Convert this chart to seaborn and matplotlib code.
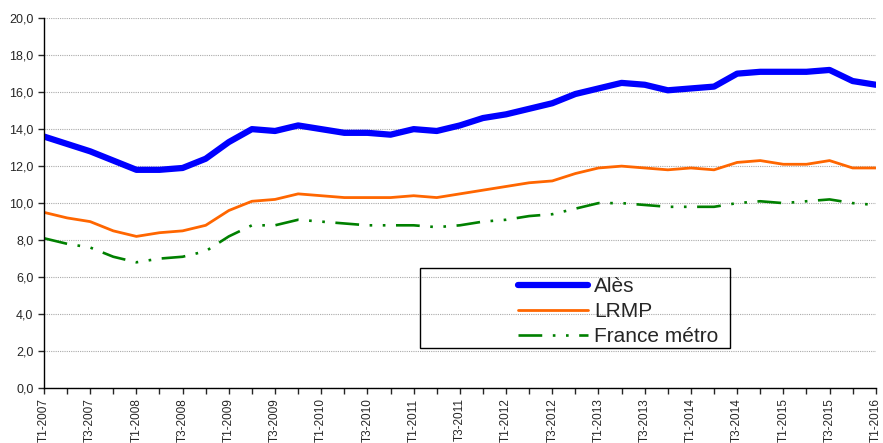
import numpy as np
import pandas as pd
import seaborn as sns
import matplotlib.pyplot as plt
from matplotlib.patches import Rectangle
from matplotlib.ticker import FuncFormatter, MultipleLocator

# quarterly unemployment rates, T1-2007 .. T1-2016
quarters = [f"T{q}-{y}" for y in range(2007, 2017) for q in (1, 2, 3, 4)][:37]

ales = [13.6, 13.2, 12.8, 12.3, 11.8, 11.8, 11.9, 12.4, 13.3, 14.0, 13.9, 14.2,
        14.0, 13.8, 13.8, 13.7, 14.0, 13.9, 14.2, 14.6, 14.8, 15.1, 15.4, 15.9,
        16.2, 16.5, 16.4, 16.1, 16.2, 16.3, 17.0, 17.1, 17.1, 17.1, 17.2, 16.6, 16.4]
lrmp = [9.5, 9.2, 9.0, 8.5, 8.2, 8.4, 8.5, 8.8, 9.6, 10.1, 10.2, 10.5,
        10.4, 10.3, 10.3, 10.3, 10.4, 10.3, 10.5, 10.7, 10.9, 11.1, 11.2, 11.6,
        11.9, 12.0, 11.9, 11.8, 11.9, 11.8, 12.2, 12.3, 12.1, 12.1, 12.3, 11.9, 11.9]
france = [8.1, 7.8, 7.6, 7.1, 6.8, 7.0, 7.1, 7.4, 8.2, 8.8, 8.8, 9.1,
          9.0, 8.9, 8.8, 8.8, 8.8, 8.7, 8.8, 9.0, 9.1, 9.3, 9.4, 9.7,
          10.0, 10.0, 9.9, 9.8, 9.8, 9.8, 10.0, 10.1, 10.0, 10.1, 10.2, 10.0, 9.9]

df = pd.DataFrame({"idx": np.arange(len(quarters)), "quarter": quarters,
                   "Alès": ales, "LRMP": lrmp, "France métro": france})

sns.set_style("white")
plt.rcParams['font.family'] = ['Liberation Sans', 'DejaVu Sans']

fig = plt.figure(figsize=(8.83, 4.43), dpi=100)
ax = fig.add_axes([0.0498, 0.124, 0.942, 0.835])

sns.lineplot(data=df, x="idx", y="Alès", ax=ax, color="#0000FF", lw=4.5, label="Alès")
sns.lineplot(data=df, x="idx", y="LRMP", ax=ax, color="#FF6600", lw=2, label="LRMP")
sns.lineplot(data=df, x="idx", y="France métro", ax=ax, color="#008000", lw=1.9,
             dashes=False, label="France métro")
ax.lines[2].set_dashes((9, 4, 1, 4, 1, 4))

ax.set_xlim(0, 36)
ax.set_ylim(0, 20)
ax.yaxis.set_major_locator(MultipleLocator(2))
ax.yaxis.set_major_formatter(FuncFormatter(lambda v, p: f"{v:.1f}".replace(".", ",")))
ax.set_xticks(df["idx"][::2])
ax.set_xticklabels(df["quarter"][::2], rotation=90, fontsize=8.5)
ax.set_xticks(df["idx"][1::2], minor=True)
ax.tick_params(axis="y", labelsize=9, length=4, width=1, direction="out", left=True)
ax.tick_params(axis="x", which="both", length=4, width=1, direction="out", bottom=True)
ax.set_xlabel("")
ax.set_ylabel("")

ax.grid(axis="y", color="#aaaaaa", linestyle=(0, (1, 1)), lw=0.8)
ax.set_axisbelow(True)
for s in ("top", "right"):
    ax.spines[s].set_visible(False)
for s in ("left", "bottom"):
    ax.spines[s].set_color("black")
    ax.spines[s].set_linewidth(1)

# Excel-like legend box
ax.add_patch(Rectangle((16.27, 2.16), 13.41, 4.33, fill=False, ec="black", lw=1,
                       transform=ax.transData, zorder=5))
ax.get_legend().remove()
leg = ax.legend(loc="upper left", bbox_to_anchor=(19.9 / 36, 6.8 / 20), frameon=False,
                fontsize=15, handlelength=3.35, handletextpad=0.3, labelspacing=0.3,
                borderpad=0.2)

fig.savefig("out.png", dpi=100)
